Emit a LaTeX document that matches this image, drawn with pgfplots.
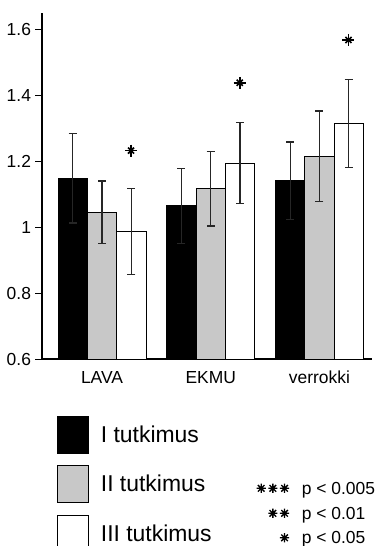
\documentclass[border=0pt]{standalone}
\usepackage{pgfplots}
\pgfplotsset{compat=1.18}
\usepackage{fontspec}
\setmainfont{Liberation Sans}
\definecolor{barGray}{RGB}{200,200,200}
\newcommand{\sigstar}{\tikz{\draw[line width=1.3bp] (-4.6bp,0)--(4.6bp,0) (0,-4.6bp)--(0,4.6bp) (-3.3bp,-3.3bp)--(3.3bp,3.3bp) (-3.3bp,3.3bp)--(3.3bp,-3.3bp);}}
\newcommand{\tlfont}{\fontsize{17.5}{20}\selectfont}
\begin{document}
\begin{tikzpicture}
\begin{axis}[
  at={(42bp,187bp)}, anchor=south west,
  scale only axis, width=330bp, height=346bp,
  xmin=-0.552, xmax=2.484, ymin=0.6, ymax=1.651,
  axis x line*=bottom, axis y line*=left,
  axis line style={-, line width=1.1bp, black},
  xtick={0,1,2}, xticklabels={LAVA,EKMU,verrokki},
  x tick style={draw=none},
  ytick={0.6,0.8,1,1.2,1.4,1.6},
  tick align=outside, major tick length=6.5bp,
  y tick style={line width=1bp, black},
  every tick label/.append style={font=\tlfont},
  xticklabel style={font=\tlfont, yshift=-2bp},
  yticklabel style={font=\tlfont, xshift=-1bp},
  /pgf/number format/assume math mode=true,
  ybar, bar width=29.3bp,
  legend cell align=left,
  legend style={at={(0.0455,-0.1647)}, anchor=north west, draw=none, fill=none,
    inner sep=0pt, outer sep=0pt, row sep=11.5bp, column sep=10bp,
    font=\fontsize{23}{27}\selectfont},
  legend image code/.code={\draw[#1, line width=0.9bp] (0bp,-18.5bp) rectangle (31bp,18.5bp);},
  error bars/error bar style={line width=1.1bp, black!85},
  error bars/error mark options={rotate=90, mark size=4bp, line width=1.3bp, black!85},
]
\addplot[fill=black, draw=black, line width=0.9bp, bar shift=-29.3bp,
  error bars/.cd, y dir=both, y explicit]
  coordinates {(0,1.149) +- (0,0.136) (1,1.065) +- (0,0.114) (2,1.141) +- (0,0.118)};
\addlegendentry{I tutkimus}
\addplot[fill=barGray, draw=black, line width=0.9bp, bar shift=0bp,
  error bars/.cd, y dir=both, y explicit]
  coordinates {(0,1.046) +- (0,0.095) (1,1.117) +- (0,0.113) (2,1.216) +- (0,0.137)};
\addlegendentry{II tutkimus}
\addplot[fill=white, draw=black, line width=0.9bp, bar shift=29.3bp,
  error bars/.cd, y dir=both, y explicit]
  coordinates {(0,0.987) +- (0,0.130) (1,1.195) +- (0,0.123) (2,1.316) +- (0,0.134)};
\addlegendentry{III tutkimus}
\addplot[sharp plot, only marks, mark=+, mark size=6bp, line width=1.6bp, black, forget plot]
  coordinates {(0.267,1.233) (1.267,1.439) (2.267,1.569)};
\addplot[sharp plot, only marks, mark=x, mark size=4.3bp, line width=1.6bp, black, forget plot]
  coordinates {(0.267,1.233) (1.267,1.439) (2.267,1.569)};
\addplot[sharp plot, only marks, mark=*, mark size=1.8bp, black, forget plot]
  coordinates {(0.267,1.233) (1.267,1.439) (2.267,1.569)};
\end{axis}
\node[anchor=east, inner sep=0pt] at (290bp,57.7bp) {\sigstar\hspace{1.2bp}\sigstar\hspace{1.2bp}\sigstar};
\node[anchor=east, inner sep=0pt] at (290bp,32.7bp) {\sigstar\hspace{1.2bp}\sigstar};
\node[anchor=east, inner sep=0pt] at (290bp,8.2bp) {\sigstar};
\node[anchor=base west, inner sep=0pt, font=\fontsize{17.5}{20}\selectfont] at (301.7bp,51.5bp) {p < 0.005};
\node[anchor=base west, inner sep=0pt, font=\fontsize{17.5}{20}\selectfont] at (301.7bp,26.5bp) {p < 0.01};
\node[anchor=base west, inner sep=0pt, font=\fontsize{17.5}{20}\selectfont] at (301.7bp,2.5bp) {p < 0.05};
\pgfresetboundingbox
\useasboundingbox (0,0) rectangle (378bp,546bp);
\end{tikzpicture}
\end{document}
